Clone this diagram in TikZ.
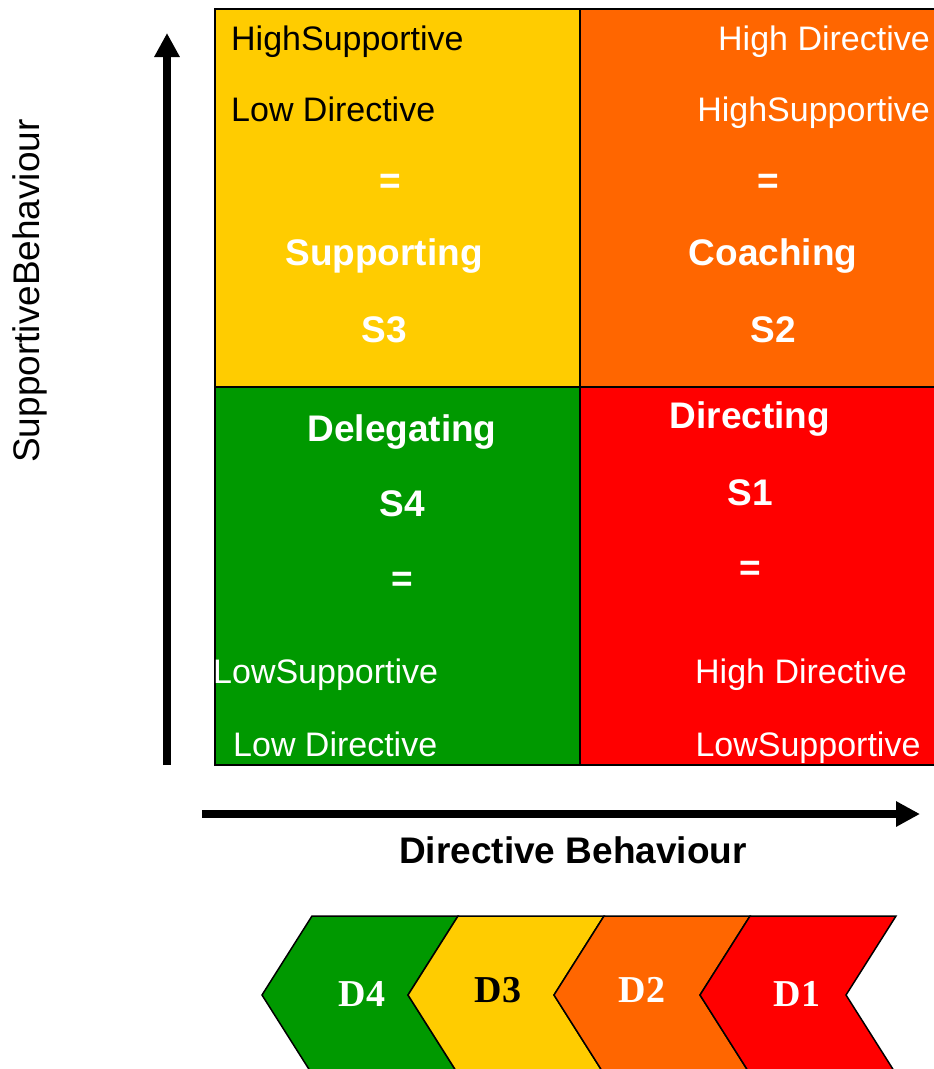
\documentclass[tikz,border=0pt]{standalone}
\usepackage{fontspec}
\setmainfont{Liberation Sans}
\newfontfamily\dfont{Liberation Serif}
\usetikzlibrary{arrows.meta}
\usetikzlibrary{positioning}
\tikzset{cell/.style = {draw, line width = 2, inner sep = 0, minimum height = 378}}
\tikzset{txt/.style = {inner sep = 0, text height = 25.5, text depth = 7,
                       font = \fontsize{34}{40}\selectfont}}
\tikzset{bld/.style = {inner sep = 0, text height = 27.5, text depth = 7, text = white,
                       font = \fontsize{37}{44}\selectfont\bfseries}}
\tikzset{axis/.style = {line width = 8.5, -{Triangle[length = 24, width = 24]}}}
\tikzset{chev/.style = {draw, line width = 1.5, line join = miter}}
\tikzset{dlab/.style = {font = \fontsize{38}{40}\selectfont\dfont\bfseries}}
\definecolor{syellow}{HTML}{FFCC00}
\definecolor{sorange}{HTML}{FF6600}
\definecolor{sgreen}{HTML}{009900}
\definecolor{sred}{HTML}{FF0000}

\begin{document}
\begin{tikzpicture}[x = 1pt, y = -1pt]
    \clip (0, 0) rectangle (934, 1069);

    % the four styles
    \node [cell, fill = syellow, minimum width = 365] (s3) at (397.5, 198) {};
    \node [cell, fill = sorange, minimum width = 370] (s2) at (765, 198) {};
    \node [cell, fill = sgreen, minimum width = 365] (s4) at (397.5, 576) {};
    \node [cell, fill = sred, minimum width = 370] (s1) at (765, 576) {};

    \node [txt, anchor = west] (s3hi) at (231, 41) {HighSupportive};
    \node [txt, anchor = west] (s3lo) at (231, 112) {Low Directive};
    \node [bld] (s3eq) at (390, 183) {=};
    \node [bld] (s3name) at (384, 255) {Supporting};
    \node [bld] (s3num) at (384, 332) {S3};

    \node [txt, text = white, anchor = east] (s2hi) at (930, 41) {High Directive};
    \node [txt, text = white, anchor = east] (s2lo) at (930, 112) {HighSupportive};
    \node [bld] (s2eq) at (768, 183) {=};
    \node [bld] (s2name) at (773, 255) {Coaching};
    \node [bld] (s2num) at (773, 332) {S2};

    \node [bld] (s4name) at (402, 431) {Delegating};
    \node [bld] (s4num) at (402, 506) {S4};
    \node [bld] (s4eq) at (402, 581) {=};
    \node [txt, text = white, anchor = west] (s4hi) at (213, 674) {LowSupportive};
    \node [txt, text = white, anchor = west] (s4lo) at (233, 747) {Low Directive};

    \node [bld] (s1name) at (750, 418) {Directing};
    \node [bld] (s1num) at (750, 495) {S1};
    \node [bld] (s1eq) at (750, 570) {=};
    \node [txt, text = white] (s1hi) at (801, 674) {High Directive};
    \node [txt, text = white] (s1lo) at (808, 747) {LowSupportive};

    % axes
    \coordinate (yfoot) at (167, 765);
    \coordinate (ytip) at (167, 33);
    \coordinate (xfoot) at (202, 814);
    \coordinate (xtip) at (920, 814);
    \draw [axis] (yfoot) -- (ytip);
    \draw [axis] (xfoot) -- (xtip);
    \node [txt, rotate = 90, font = \fontsize{37}{44}\selectfont] (ylab) at (30, 291) {SupportiveBehaviour};
    \node [bld, text = black] (xlab) at (573, 853) {Directive Behaviour};

    % development levels
    \foreach \p/\c in {262/sgreen, 408/syellow, 554/sorange, 700/sred}
      \draw [chev, fill = \c] (\p, 995) -- ++(50, -79) -- ++(146, 0) -- ++(-50, 79)
                              -- ++(50, 79) -- ++(-146, 0) -- cycle;
    \node [dlab, text = white] (d4) at (362, 994) {D4};
    \node [dlab] (d3) at (498, 990) {D3};
    \node [dlab, text = white] (d2) at (642, 990) {D2};
    \node [dlab, text = white] (d1) at (797, 994) {D1};
  \end{tikzpicture}
\end{document}
